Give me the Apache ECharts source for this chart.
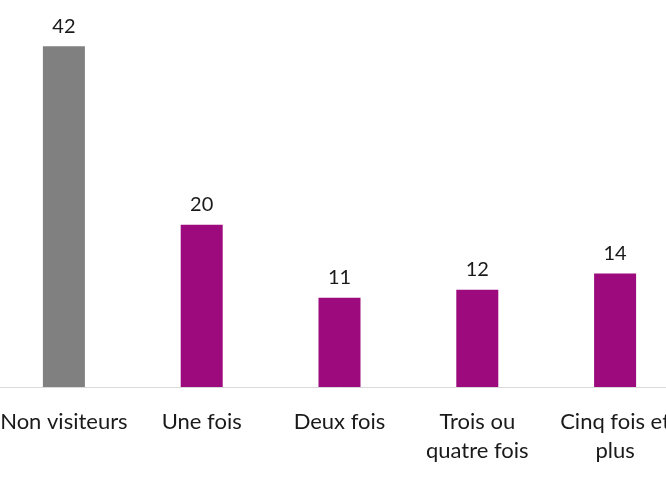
<!DOCTYPE html>
<html>
<head>
<meta charset="utf-8">
<script src="https://cdn.jsdelivr.net/npm/echarts@6/dist/echarts.min.js"></script>
<style>
html,body{margin:0;padding:0;background:#fff;overflow:hidden;width:666px;height:491px;}
#chart{position:absolute;left:-5px;top:0;width:689px;height:491px;}
</style>
</head>
<body>
<div id="chart"></div>
<script>
const categories = ["Non visiteurs", "Une fois", "Deux fois", "Trois ou\nquatre fois", "Cinq fois et\nplus"];
const values = [42, 20, 11, 12, 14];
const barColors = ["#808080", "#9C0A7D", "#9C0A7D", "#9C0A7D", "#9C0A7D"];

const chart = echarts.init(document.getElementById('chart'), null, {renderer: 'canvas'});
chart.setOption({
  animation: false,
  backgroundColor: '#ffffff',
  grid: {left: 0, right: 0, top: 22, bottom: 104, containLabel: false},
  xAxis: {
    type: 'category',
    data: categories,
    axisLine: {show: true, lineStyle: {color: '#d9d9d9', width: 1}},
    axisTick: {show: false},
    axisLabel: {
      interval: 0,
      margin: 20,
      color: '#1a1a1a',
      fontFamily: 'Lato',
      fontSize: 22,
      lineHeight: 29
    }
  },
  yAxis: {
    type: 'value',
    min: 0,
    max: 45,
    show: false,
    splitLine: {show: false}
  },
  series: [{
    type: 'bar',
    barWidth: 42,
    data: values.map((v, i) => ({value: v, itemStyle: {color: barColors[i]}})),
    label: {
      show: true,
      position: 'top',
      distance: 10,
      color: '#1a1a1a',
      fontFamily: 'Lato',
      fontSize: 20
    }
  }]
});
</script>
</body>
</html>
